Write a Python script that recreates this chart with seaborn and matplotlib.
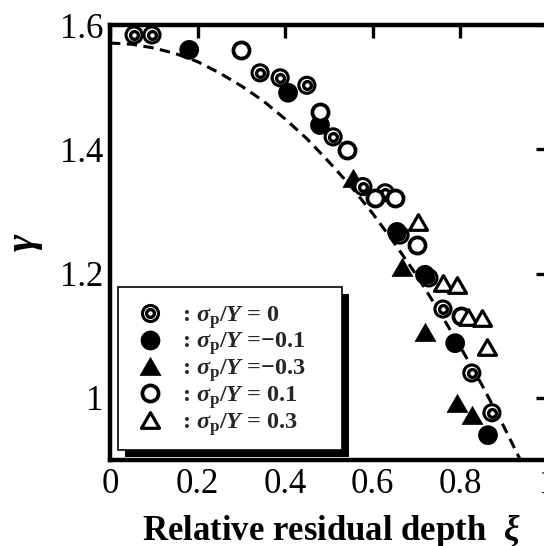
import matplotlib
matplotlib.use("Agg")
import matplotlib.pyplot as plt
import seaborn as sns
from matplotlib.lines import Line2D
from matplotlib.legend_handler import HandlerTuple
from matplotlib.patches import Rectangle
from matplotlib.path import Path
from matplotlib.transforms import IdentityTransform

# ---------------- data ----------------
xi_s0 = [0.055, 0.096, 0.343, 0.389, 0.450, 0.510, 0.578, 0.629, 0.663, 0.729, 0.761, 0.827, 0.873]
g_s0 = [1.584, 1.584, 1.523, 1.515, 1.503, 1.420, 1.340, 1.330, 1.262, 1.193, 1.143, 1.040, 0.976]

xi_m01 = [0.181, 0.407, 0.480, 0.656, 0.720, 0.789, 0.864]
g_m01 = [1.560, 1.491, 1.439, 1.267, 1.198, 1.088, 0.940]

xi_m03 = [0.555, 0.667, 0.720, 0.793, 0.827]
g_m03 = [1.354, 1.211, 1.106, 0.992, 0.973]

xi_p01 = [0.299, 0.480, 0.542, 0.606, 0.651, 0.702, 0.802]
g_p01 = [1.560, 1.460, 1.399, 1.322, 1.322, 1.246, 1.132]

xi_p03 = [0.704, 0.761, 0.793, 0.818, 0.850, 0.862]
g_p03 = [1.283, 1.185, 1.182, 1.130, 1.128, 1.082]

xi_curve = [0.0, 0.05, 0.1, 0.15, 0.2, 0.25, 0.3, 0.35, 0.4, 0.45, 0.5,
            0.55, 0.6, 0.65, 0.7, 0.75, 0.8, 0.85, 0.9, 0.95]
g_curve = [1.571, 1.569, 1.563, 1.554, 1.541, 1.523, 1.502, 1.478, 1.449, 1.417, 1.380,
           1.341, 1.297, 1.249, 1.198, 1.142, 1.083, 1.021, 0.954, 0.883]

x_ticks = [0, 0.2, 0.4, 0.6, 0.8, 1.0]
x_ticklabels = ["0", "0.2", "0.4", "0.6", "0.8", "1"]
y_ticks = [1.0, 1.2, 1.4, 1.6]
y_ticklabels = ["1", "1.2", "1.4", "1.6"]

legend_labels = [": $\\sigma_{\\rm p}/Y$ = 0",
                 ": $\\sigma_{\\rm p}/Y$ =\u22120.1",
                 ": $\\sigma_{\\rm p}/Y$ =\u22120.3",
                 ": $\\sigma_{\\rm p}/Y$ = 0.1",
                 ": $\\sigma_{\\rm p}/Y$ = 0.3"]

# ---------------- style ----------------
sns.set_theme(style="white")
plt.rcParams["font.family"] = ["Liberation Serif", "DejaVu Serif"]
plt.rcParams["mathtext.fontset"] = "custom"
plt.rcParams["mathtext.rm"] = "Liberation Serif:bold"
plt.rcParams["mathtext.it"] = "Liberation Serif:italic:bold"
plt.rcParams["mathtext.bf"] = "Liberation Serif:bold"

W, H = 544, 546
fig = plt.figure(figsize=(W / 100, H / 100), dpi=100)
ax = fig.add_axes([110 / W, 86 / H, 437.5 / W, 435 / H])

TRI = Path([(-1, -0.866), (1, -0.866), (0, 0.866), (-1, -0.866)], closed=True)

# dashed theoretical curve
sns.lineplot(x=xi_curve, y=g_curve, ax=ax, color="black", linewidth=2.2,
             linestyle=(0, (3.4, 2.1)), zorder=2, sort=False, estimator=None)

# filled triangles
sns.scatterplot(x=xi_m03, y=g_m03, ax=ax, marker=TRI, s=15.0 ** 2,
                color="black", edgecolor="black", linewidth=0.5, zorder=2.5)
# double circles (three layers)
sns.scatterplot(x=xi_s0, y=g_s0, ax=ax, marker="o", s=13.8 ** 2,
                color="black", edgecolor="none", linewidth=0, zorder=3)
sns.scatterplot(x=xi_s0, y=g_s0, ax=ax, marker="o", s=9.3 ** 2,
                color="white", edgecolor="none", linewidth=0, zorder=3.1)
sns.scatterplot(x=xi_s0, y=g_s0, ax=ax, marker="o", s=5.6 ** 2,
                color="white", edgecolor="black", linewidth=2.4, zorder=3.2)
# filled circles
sns.scatterplot(x=xi_m01, y=g_m01, ax=ax, marker="o", s=14.2 ** 2,
                color="black", edgecolor="none", linewidth=0, zorder=4)
# open circles
sns.scatterplot(x=xi_p01, y=g_p01, ax=ax, marker="o", s=11.6 ** 2,
                color="white", edgecolor="black", linewidth=2.7, zorder=5)
# open triangles
sns.scatterplot(x=xi_p03, y=g_p03, ax=ax, marker=TRI, s=13.0 ** 2,
                color="white", edgecolor="black", linewidth=2.3, zorder=6)

ax.set_xlim(0, 1.0)
ax.set_ylim(0.9, 1.6)
ax.set_xticks(x_ticks, x_ticklabels)
ax.set_yticks(y_ticks, y_ticklabels)
ax.tick_params(direction="in", top=True, right=True, length=9, width=2.4,
               labelsize=25, pad=6, color="black", labelcolor="black")
ax.tick_params(axis="y", pad=5)
for sp in ax.spines.values():
    sp.set_linewidth(3.2)
    sp.set_color("black")

ax.set_xlabel("Relative residual depth  $\\xi$", fontsize=25, fontweight="bold",
              color="black")
ax.xaxis.set_label_coords(0.505, -0.119)
ax.set_ylabel("$\\gamma$", fontsize=30, color="black", rotation=90)
ax.yaxis.set_label_coords(-0.148, 0.5)

# legend (content only; frame and shadow drawn below)
h_s0 = (Line2D([], [], ls="none", marker="o", ms=13.8, mfc="black", mec="none"),
        Line2D([], [], ls="none", marker="o", ms=9.3, mfc="white", mec="none"),
        Line2D([], [], ls="none", marker="o", ms=5.6, mfc="white", mec="black", mew=2.4))
h_m01 = Line2D([], [], ls="none", marker="o", ms=14.2, mfc="black", mec="none")
h_m03 = Line2D([], [], ls="none", marker=TRI, ms=15.0, mfc="black", mec="black", mew=0.5)
h_p01 = Line2D([], [], ls="none", marker="o", ms=11.6, mfc="white", mec="black", mew=2.7)
h_p03 = Line2D([], [], ls="none", marker=TRI, ms=13.0, mfc="white", mec="black", mew=2.3)

leg = ax.legend([h_s0, h_m01, h_m03, h_p01, h_p03], legend_labels,
                handler_map={tuple: HandlerTuple(ndivide=1)},
                loc="upper left", bbox_to_anchor=(0.0526, 0.359), borderaxespad=0,
                prop={"family": "Liberation Serif", "weight": "bold", "size": 17.5},
                frameon=False, borderpad=0, handlelength=1.4, handletextpad=0.62,
                labelspacing=0.0)
leg.set_zorder(10)

# legend frame + black drop shadow (pixel positions of the reference box)
fx0, fx1, fy0, fy1 = 118, 342, 287, 450
frame = Rectangle((fx0, H - fy1), fx1 - fx0, fy1 - fy0, transform=IdentityTransform(),
                  facecolor="white", edgecolor="black", linewidth=1.2, zorder=9.8,
                  clip_on=False)
shadow = Rectangle((fx0 + 7, H - fy1 - 7), fx1 - fx0, fy1 - fy0,
                   transform=IdentityTransform(), facecolor="black",
                   edgecolor="none", zorder=9.7, clip_on=False)
ax.add_artist(shadow)
ax.add_artist(frame)

fig.savefig("out.png", dpi=100)
